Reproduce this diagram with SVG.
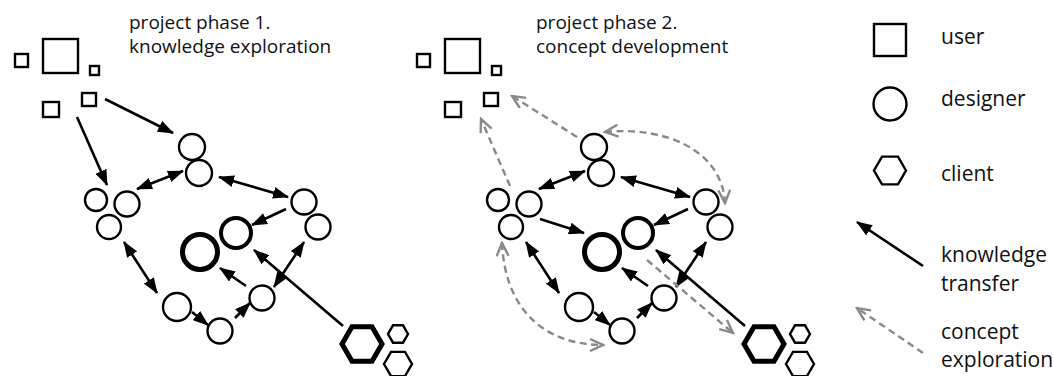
<svg xmlns="http://www.w3.org/2000/svg" width="1053" height="376" viewBox="0 0 1053 376">
<style>
.t{font-family:"Open Sans","Liberation Sans",sans-serif;font-size:19px;fill:#111}
.lg{font-family:"Open Sans","Liberation Sans",sans-serif;font-size:21px;fill:#111}
.n{fill:#fff;stroke:#000;stroke-width:2.4}
.n4{fill:#fff;stroke:#000;stroke-width:4}
.n5{fill:#fff;stroke:#000;stroke-width:5}
.k{stroke:#000;stroke-width:2.6;fill:none;marker-end:url(#ah)}
.k2{stroke:#000;stroke-width:2.6;fill:none;marker-end:url(#ah);marker-start:url(#ah)}
.g{stroke:#8a8a8a;stroke-width:2.4;fill:none;stroke-dasharray:7 4.5;marker-end:url(#gh)}
.g2{stroke:#8a8a8a;stroke-width:2.4;fill:none;stroke-dasharray:7 4.5;marker-end:url(#gh);marker-start:url(#gh)}
</style>
<defs>
<marker id="ah" markerUnits="userSpaceOnUse" markerWidth="16" markerHeight="12" viewBox="0 0 16 12" refX="15" refY="6" orient="auto-start-reverse">
<path d="M0,0 L16,6 L0,12 z" fill="#000"/>
</marker>
<marker id="gh" markerUnits="userSpaceOnUse" markerWidth="16" markerHeight="14" viewBox="-1 -1 16 14" refX="13" refY="6" orient="auto-start-reverse">
<path d="M0,0 L13,6 L0,12" fill="none" stroke="#8a8a8a" stroke-width="2.4" stroke-dasharray="none"/>
</marker>
</defs>

<g id="titles">
<text class="t" x="129" y="29">project phase 1.</text>
<text class="t" x="129" y="53">knowledge exploration</text>
<text class="t" x="536" y="29">project phase 2.</text>
<text class="t" x="536" y="53">concept development</text>
</g>

<g id="connectors">
<!-- phase 1 -->
<line class="k" x1="105" y1="99" x2="173" y2="133"/>
<line class="k" x1="77" y1="117" x2="107" y2="185"/>
<line class="k2" x1="137" y1="189" x2="183" y2="171"/>
<line class="k2" x1="219" y1="177" x2="288" y2="197"/>
<line class="k" x1="286" y1="209" x2="252" y2="225"/>
<line class="k2" x1="124" y1="242" x2="157" y2="293"/>
<line class="k" x1="192" y1="312" x2="208" y2="325"/>
<line class="k" x1="235" y1="318" x2="250" y2="303"/>
<line class="k" x1="246" y1="286" x2="220" y2="268"/>
<line class="k2" x1="274" y1="287" x2="304" y2="242"/>
<line class="k" x1="343" y1="326" x2="254" y2="250"/>
<!-- phase 2 -->
<line class="k2" x1="539" y1="189" x2="585" y2="171"/>
<line class="k2" x1="621" y1="177" x2="690" y2="197"/>
<line class="k" x1="688" y1="209" x2="654" y2="225"/>
<line class="k" x1="540" y1="219" x2="584" y2="233"/>
<line class="k2" x1="526" y1="242" x2="559" y2="293"/>
<line class="k" x1="594" y1="312" x2="610" y2="325"/>
<line class="k" x1="637" y1="318" x2="652" y2="303"/>
<line class="k" x1="648" y1="286" x2="622" y2="268"/>
<line class="k2" x1="676" y1="287" x2="706" y2="242"/>
<line class="k" x1="745" y1="326" x2="656" y2="250"/>
<line class="g" x1="577" y1="137" x2="512" y2="96"/>
<line class="g" x1="510" y1="186" x2="481" y2="119"/>
<path class="g2" d="M605,132 C665,126 722,150 725,203"/>
<path class="g2" d="M502,243 C505,310 545,345 603,345"/>
<line class="g" x1="647" y1="260" x2="733" y2="333"/>
<!-- legend -->
<line class="k" x1="923" y1="266" x2="857" y2="222"/>
<line class="g" x1="923" y1="353" x2="857" y2="308"/>
</g>

<g id="phase1-users">
<rect class="n" x="15" y="54" width="13" height="13"/>
<rect class="n" x="43" y="39" width="35" height="34"/>
<rect class="n" x="90" y="66" width="9" height="9"/>
<rect class="n" x="82" y="93" width="14" height="13"/>
<rect class="n" x="43" y="102" width="16" height="15"/>
</g>
<g id="phase1-designers">
<circle class="n" cx="192" cy="147" r="13"/>
<circle class="n" cx="199" cy="173" r="13"/>
<circle class="n" cx="96" cy="200" r="11"/>
<circle class="n" cx="127" cy="204" r="12.5"/>
<circle class="n" cx="109" cy="227" r="12"/>
<circle class="n" cx="304" cy="202" r="12.5"/>
<circle class="n" cx="318" cy="227" r="12.5"/>
<circle class="n4" cx="236" cy="233" r="15"/>
<circle class="n5" cx="200" cy="252" r="17.5"/>
<circle class="n" cx="177" cy="307" r="14"/>
<circle class="n" cx="220" cy="331" r="12.5"/>
<circle class="n" cx="262" cy="298" r="12.5"/>
</g>
<g id="phase1-clients">
<polygon class="n5" points="382,344 372,326.7 352,326.7 342,344 352,361.3 372,361.3"/>
<polygon class="n" points="408,334 403,325.3 393,325.3 388,334 393,342.7 403,342.7"/>
<polygon class="n" points="412,364 405,351.9 391,351.9 384,364 391,376.1 405,376.1"/>
</g>

<g id="phase2-users">
<rect class="n" x="417" y="54" width="13" height="13"/>
<rect class="n" x="445" y="39" width="35" height="34"/>
<rect class="n" x="492" y="66" width="9" height="9"/>
<rect class="n" x="484" y="93" width="14" height="13"/>
<rect class="n" x="445" y="102" width="16" height="15"/>
</g>
<g id="phase2-designers">
<circle class="n" cx="594" cy="147" r="13"/>
<circle class="n" cx="601" cy="173" r="13"/>
<circle class="n" cx="498" cy="200" r="11"/>
<circle class="n" cx="529" cy="204" r="12.5"/>
<circle class="n" cx="511" cy="227" r="12"/>
<circle class="n" cx="706" cy="202" r="12.5"/>
<circle class="n" cx="720" cy="227" r="12.5"/>
<circle class="n4" cx="638" cy="233" r="15"/>
<circle class="n5" cx="602" cy="252" r="17.5"/>
<circle class="n" cx="579" cy="307" r="14"/>
<circle class="n" cx="622" cy="331" r="12.5"/>
<circle class="n" cx="664" cy="298" r="12.5"/>
</g>
<g id="phase2-clients">
<polygon class="n5" points="784,344 774,326.7 754,326.7 744,344 754,361.3 774,361.3"/>
<polygon class="n" points="810,334 805,325.3 795,325.3 790,334 795,342.7 805,342.7"/>
<polygon class="n" points="814,364 807,351.9 793,351.9 786,364 793,376.1 807,376.1"/>
</g>

<g id="legend">
<rect class="n" x="874" y="24" width="32" height="32"/>
<text class="lg" x="941" y="44">user</text>
<circle class="n" cx="890" cy="104" r="16.5"/>
<text class="lg" x="941" y="106">designer</text>
<polygon class="n" points="906,170.5 898,156.6 882,156.6 874,170.5 882,184.4 898,184.4"/>
<text class="lg" x="941" y="181">client</text>
<text class="lg" x="941" y="262">knowledge</text>
<text class="lg" x="941" y="291">transfer</text>
<text class="lg" x="941" y="339">concept</text>
<text class="lg" x="941" y="367">exploration</text>
</g>
</svg>
